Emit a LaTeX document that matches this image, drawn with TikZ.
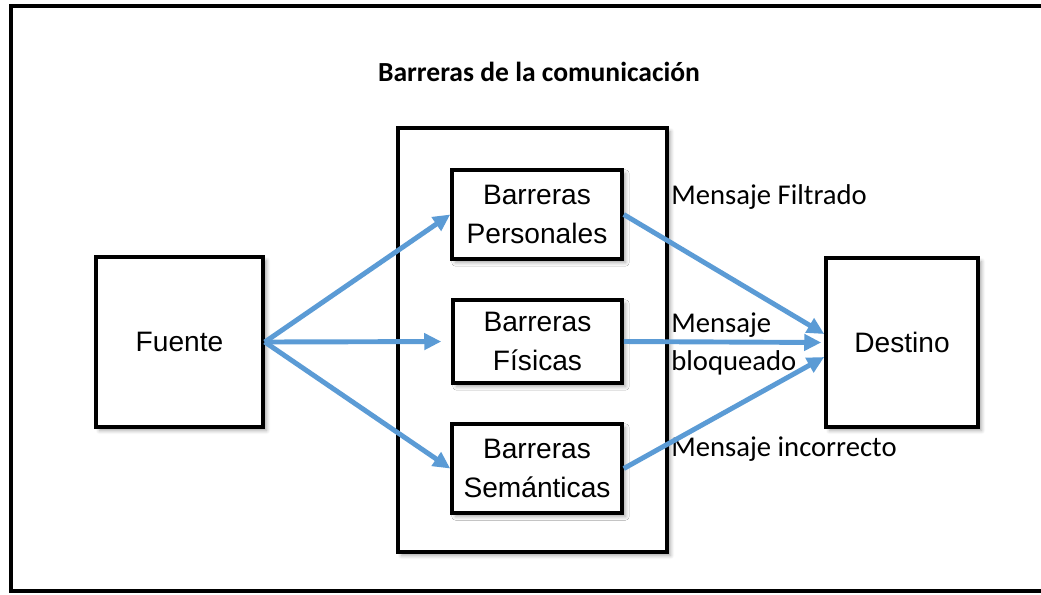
\documentclass[tikz,border=0pt]{standalone}
\usepackage{fontspec}
\setmainfont{Liberation Sans}
\newfontfamily\msgfont{Carlito}
\usepackage{xcolor}
\usetikzlibrary{arrows.meta,shadows.blur}
\definecolor{arrowblue}{HTML}{5B9BD5}

\begin{document}
\begin{tikzpicture}[
        box/.style={rectangle, draw, line width=2pt, fill=white, align=center,
            blur shadow={shadow xshift=2pt, shadow yshift=-2pt, shadow blur steps=6, shadow opacity=35},
            font=\fontsize{16}{22.5}\selectfont},
        msg/.style={anchor=west, inner sep=0pt, align=left, font=\msgfont\fontsize{16.3}{21.6}\selectfont},
        arrow/.style={-{Triangle[length=0.34cm,width=0.32cm]}, line width=2.8pt, draw=arrowblue}
    ]
        \useasboundingbox (0,0) rectangle (20.82,-11.88);
        % outer frame
        \draw[line width=2pt] (20.82,-0.12) -- (0.22,-0.12) -- (0.22,-11.82) -- (20.82,-11.82);

        \node[font=\msgfont\bfseries\fontsize{15.7}{18}\selectfont] (title) at (10.78,-1.44) {Barreras de la comunicación};

        \node[box, minimum width=5.38cm, minimum height=8.48cm] (group) at (10.65,-6.80) {};
        \node[box, minimum width=3.34cm, minimum height=3.40cm] (fuente) at (3.59,-6.84) {Fuente};
        \node[box, minimum width=3.40cm, minimum height=1.78cm] (personales) at (10.74,-4.29) {Barreras\\Personales};
        \node[box, minimum width=3.38cm, minimum height=1.66cm] (fisicas) at (10.75,-6.83) {Barreras\\Físicas};
        \node[box, minimum width=3.40cm, minimum height=1.78cm] (semanticas) at (10.74,-9.37) {Barreras\\Semánticas};
        \node[box, minimum width=3.04cm, minimum height=3.38cm] (destino) at (18.04,-6.85) {Destino};

        \node[msg] (filtrado) at (13.42,-3.94) {Mensaje Filtrado};
        \node[msg] (bloqueado) at (13.42,-6.88) {Mensaje\\bloqueado};
        \node[msg] (incorrecto) at (13.42,-8.98) {Mensaje incorrecto};

        \draw[arrow] (fuente.east) -- (personales.west);
        \draw[arrow, shorten >=0.2cm] (fuente.east) -- (fisicas.west);
        \draw[arrow] (fuente.east) -- (semanticas.west);
        \draw[arrow] (personales.east) -- ([yshift=0.17cm]destino.west);
        \draw[arrow, shorten >=0.06cm] (fisicas.east) -- (destino.west);
        \draw[arrow] (semanticas.east) -- ([yshift=-0.29cm]destino.west);
    \end{tikzpicture}
\end{document}
